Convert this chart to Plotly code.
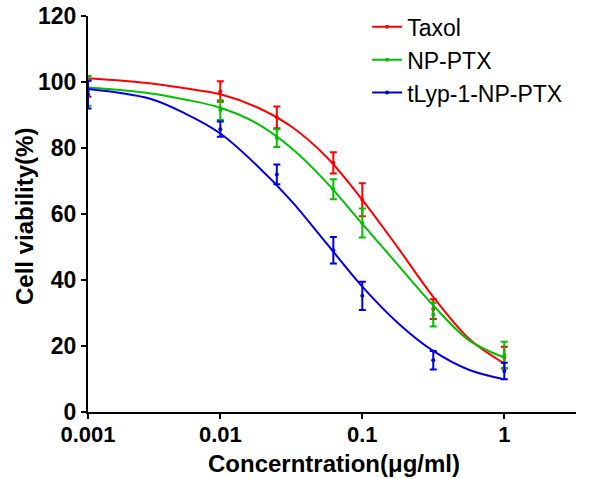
import plotly.graph_objects as go

# Measured concentrations (first point is drawn at the axis origin, labelled 0.001)
conc = [0.00117, 0.01, 0.025, 0.0625, 0.1, 0.316, 1]
taxol_mean = [98.0, 97.1, 89.3, 75.5, 64.3, 31.2, 16.5]
taxol_err = [2.5, 3.1, 3.3, 3.2, 5.0, 3.0, 3.3]
np_mean = [97.3, 91.5, 83.0, 67.5, 57.3, 29.5, 17.3]
np_err = [4.5, 3.0, 2.7, 3.0, 4.4, 3.6, 4.0]
tlyp_mean = [96.2, 85.7, 72.0, 49.0, 35.2, 15.7, 12.4]
tlyp_err = [4.2, 2.3, 3.0, 4.0, 4.3, 2.8, 2.5]

# Fitted curves at quarter-decade steps
curve_x = [0.00117, 0.00316, 0.00562, 0.01, 0.0178, 0.0316, 0.0562, 0.1, 0.178, 0.316, 0.562, 1]
taxol_fit = [101.1, 99.6, 98.1, 96.3, 92.5, 86.5, 77.2, 64.3, 49.8, 34.9, 22.3, 14.7]
np_fit = [98.3, 96.6, 94.7, 92.2, 87.6, 80.0, 69.5, 57.0, 44.6, 32.3, 21.8, 16.5]
tlyp_fit = [97.9, 95.0, 90.5, 84.4, 75.0, 64.0, 51.0, 38.0, 27.0, 18.5, 12.8, 9.9]

x_tickvals = [0.00117, 0.01, 0.1, 1]
x_ticktext = ["0.001", "0.01", "0.1", "1"]
y_tickvals = [0, 20, 40, 60, 80, 100, 120]
x_title = "Concerntration(μg/ml)"
y_title = "Cell viability(%)"

names = ["Taxol", "NP-PTX", "tLyp-1-NP-PTX"]
colors = ["#ff0000", "#00c000", "#0000e6"]
means = [taxol_mean, np_mean, tlyp_mean]
errs = [taxol_err, np_err, tlyp_err]
fits = [taxol_fit, np_fit, tlyp_fit]

fig = go.Figure()
for name, c, m, e, f in zip(names, colors, means, errs, fits):
    fig.add_trace(go.Scatter(x=curve_x, y=f, mode="lines", line=dict(color=c, width=2, shape="spline", smoothing=1),
                             showlegend=False, hoverinfo="skip"))
    fig.add_trace(go.Scatter(x=conc, y=m, mode="markers", marker=dict(color=c, size=4),
                             error_y=dict(type="data", array=e, color=c, thickness=2, width=3.5),
                             showlegend=False, cliponaxis=False))
    fig.add_trace(go.Scatter(x=[None], y=[None], mode="lines+markers", name=name,
                             line=dict(color=c, width=2), marker=dict(color=c, size=4)))

fnt = "Liberation Sans, Arial, sans-serif"
fig.update_layout(
    width=592, height=479,
    margin=dict(l=88, r=16, t=16, b=67, autoexpand=False),
    paper_bgcolor="white", plot_bgcolor="white",
    font=dict(family=fnt, color="black"),
    legend=dict(x=0.572, y=1.027, xanchor="left", yanchor="top",
                font=dict(size=23, family=fnt, color="black"),
                bgcolor="rgba(0,0,0,0)", tracegroupgap=0, itemwidth=30),
    xaxis=dict(type="log", range=[-2.932, 0.505], tickvals=x_tickvals, ticktext=x_ticktext,
               automargin=False,
               showline=True, linecolor="black", linewidth=2, ticks="outside", ticklen=5,
               tickwidth=2, tickcolor="black", showgrid=False, zeroline=False,
               ticklabelstandoff=-3,
               tickfont=dict(size=22, family=fnt, weight="bold")),
    yaxis=dict(range=[0, 120], tickvals=y_tickvals, automargin=False,
               showline=True, linecolor="black", linewidth=2, ticks="outside", ticklen=5,
               tickwidth=2, tickcolor="black", showgrid=False, zeroline=False,
               tickfont=dict(size=23, family=fnt, weight="bold")),
    annotations=[
        dict(text=x_title, xref="paper", yref="paper", x=0.505, y=-0.1288,
             xanchor="center", yanchor="middle", showarrow=False,
             font=dict(size=24, family=fnt, weight="bold", color="black")),
        dict(text=y_title, xref="paper", yref="paper", x=-0.1291, y=0.495, textangle=-90,
             xanchor="center", yanchor="middle", showarrow=False,
             font=dict(size=24, family=fnt, weight="bold", color="black")),
    ],
)
fig.write_html("out.html", config={"displayModeBar": False},
               post_script="document.body.style.margin='0';")
